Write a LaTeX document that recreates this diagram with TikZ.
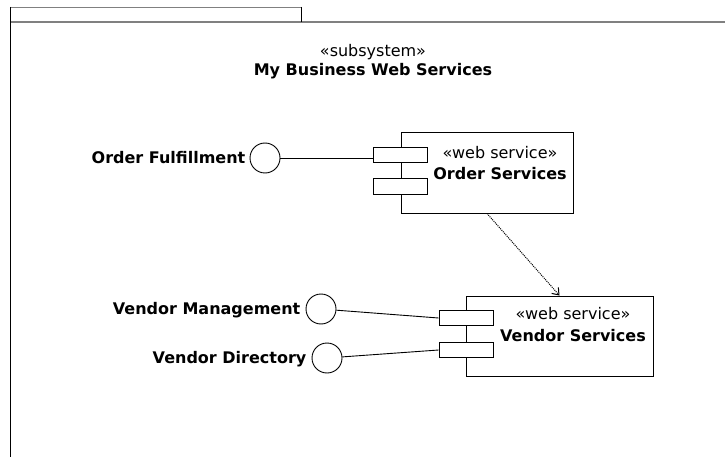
\documentclass[tikz,border=0pt]{standalone}
\usepackage{fontspec}
\setmainfont{DejaVu Sans}
\usetikzlibrary{positioning}
\usetikzlibrary{arrows.meta}

\begin{document}
\begin{tikzpicture}[x=1pt, y=-1pt,
  comp/.style={draw, rectangle, line width=0.9pt, inner sep=0pt},
  port/.style={draw, rectangle, fill=white, line width=0.9pt, minimum width=54pt, minimum height=15pt, inner sep=0pt},
  iface/.style={draw, circle, line width=0.9pt, minimum size=30pt, inner sep=0pt},
  lbl/.style={font=\fontsize{16}{19}\selectfont\bfseries, text height=11.5pt, text depth=0pt, inner sep=2pt},
  stereo/.style={font=\fontsize{16}{19}\selectfont, anchor=base, inner sep=0pt},
  cname/.style={font=\fontsize{16}{19}\selectfont\bfseries, anchor=base, inner sep=0pt},
  wire/.style={line width=0.9pt},
  dep/.style={densely dotted, line width=1pt, -{Straight Barb[length=6pt, width=9pt]}}]

\useasboundingbox (0,0) rectangle (725,457);

% package frame
\draw[gray, line width=0.8pt] (10,7) -- (301,7);
\draw[gray, line width=1.3pt] (10,22) -- (725,22);
\draw[line width=0.9pt] (10,7) -- (10,457);
\draw[line width=0.9pt] (301,7) -- (301,22);

\node[stereo] (sub) at (373,57) {«subsystem»};
\node[cname] (mbws) at (373,76) {My Business Web Services};

% order services
\node[comp, minimum width=172pt, minimum height=81pt] (os) at (487,172.5) {};
\node[port] (op1) at (400,154.5) {};
\node[port, minimum height=16pt] (op2) at (400,186) {};
\node[stereo] (ost) at (500,159) {«web service»};
\node[cname] (osn) at (500,180) {Order Services};

% vendor services
\node[comp, minimum width=187pt, minimum height=80pt] (vs) at (559.5,336) {};
\node[port] (vp1) at (466,318) {};
\node[port] (vp2) at (466,350) {};
\node[stereo] (vst) at (573,319) {«web service»};
\node[cname] (vsn) at (573,341) {Vendor Services};

% interfaces
\node[iface] (of) at (265,158) {};
\node[iface] (vm) at (321,309) {};
\node[iface] (vd) at (327,358) {};

\node[lbl, left=2pt of of] (oflbl) {Order Fulfillment};
\node[lbl, left=3pt of vm] (vmlbl) {Vendor Management};
\node[lbl, left=3pt of vd] (vdlbl) {Vendor Directory};

\draw[wire] (of) -- (of -| op1.west);
\draw[wire] (vm) -- (vp1.west);
\draw[wire] (vd) -- (vp2.west);

\draw[dep] (os.south) -- (vs.north);

\end{tikzpicture}
\end{document}
